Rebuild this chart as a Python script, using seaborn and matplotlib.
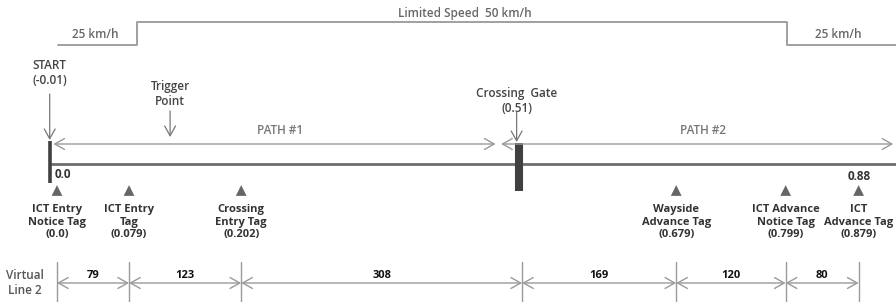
import matplotlib
matplotlib.use("Agg")
import matplotlib.pyplot as plt
import seaborn as sns
import pandas as pd

# ---------------- data (km) ----------------
segment_lengths = [79, 123, 308, 169, 120, 80]          # metres, Virtual Line 2
boundaries_km = [0.0, 0.079, 0.202, 0.510, 0.679, 0.799, 0.879]
tag_names = ["ICT Entry\nNotice Tag", "ICT Entry\nTag", "Crossing\nEntry Tag",
             "Wayside\nAdvance Tag", "ICT Advance\nNotice Tag", "ICT\nAdvance Tag"]
tag_pos = [0.0, 0.079, 0.202, 0.679, 0.799, 0.879]
tag_values = ["(0.0)", "(0.079)", "(0.202)", "(0.679)", "(0.799)", "(0.879)"]
speed_bounds = [0.001, 0.088, 0.800, 0.921]              # km
speed_values = [25, 50, 25]                              # km/h
start_pos = -0.008
gate_pos = 0.51
trigger_pos = 0.124
end_value = 0.88

# ---------------- style ----------------
sns.set_theme(style="white")
plt.rcParams["font.family"] = ["Open Sans", "DejaVu Sans"]

fig = plt.figure(figsize=(8.96, 3.02), dpi=100)
ax = fig.add_axes([0, 0, 1, 1])
ax.set_xlim(-0.0625, 0.9200)
ax.set_ylim(302, 0)  # y in pixel-like units, top down
ax.axis("off")

LGRAY = "#9a9a9a"
DARK = "#333333"

def speed_y(v):
    return 45 - (v - 25) * (23 / 25)

# speed profile (step line)
sx, sy = [], []
for i, v in enumerate(speed_values):
    sx += [speed_bounds[i], speed_bounds[i + 1]]
    sy += [speed_y(v), speed_y(v)]
speed_df = pd.DataFrame({"x": sx, "y": sy})
sns.lineplot(data=speed_df, x="x", y="y", sort=False, estimator=None,
             color="#999999", lw=1.3, ax=ax)
ax.text((speed_bounds[0] + speed_bounds[1]) / 2 - 0.003, 35, f"{speed_values[0]} km/h",
        ha="center", va="center", fontsize=8.5, color="#666666", fontweight="semibold")
ax.text((speed_bounds[1] + speed_bounds[2]) / 2 + 0.003, 13, f"Limited Speed  {speed_values[1]} km/h",
        ha="center", va="center", fontsize=8.5, color="#666666", fontweight="semibold")
ax.text((speed_bounds[2] + speed_bounds[3]) / 2 - 0.004, 35, f"{speed_values[2]} km/h",
        ha="center", va="center", fontsize=8.5, color="#666666", fontweight="semibold")

# main track
track_df = pd.DataFrame({"x": [start_pos, 0.92], "y": [164, 164]})
sns.lineplot(data=track_df, x="x", y="y", color="#6e6e6e", lw=2.0, ax=ax)

# START bar and gate bar
ax.plot([start_pos, start_pos], [141, 183], color="#404040", lw=2.6, solid_capstyle="butt")
ax.plot([gate_pos - 0.003, gate_pos - 0.003], [143, 191], color="#404040", lw=5.8,
        solid_capstyle="butt")

arrow_down = dict(arrowstyle="->,head_length=0.5,head_width=0.28", color="#777777",
                  lw=0.9, shrinkA=0, shrinkB=0, mutation_scale=14)
two_way = dict(arrowstyle="<->,head_length=0.5,head_width=0.28", color=LGRAY,
               lw=1.0, shrinkA=0, shrinkB=0, mutation_scale=14)

# START label + arrow
ax.text(start_pos, 73, "START\n(-0.01)", ha="center", va="center", fontsize=8.5,
        color="#444444", linespacing=1.25, fontweight="semibold")
ax.annotate("", xy=(start_pos, 140), xytext=(start_pos, 94), arrowprops=arrow_down)

# Trigger point
ax.text(trigger_pos, 94, "Trigger\nPoint", ha="center", va="center", fontsize=8.5,
        color="#444444", linespacing=1.25, fontweight="semibold")
ax.annotate("", xy=(trigger_pos, 137), xytext=(trigger_pos, 111), arrowprops=arrow_down)

# Crossing gate
ax.text(gate_pos - 0.006, 101, f"Crossing  Gate\n({gate_pos})", ha="center", va="center",
        fontsize=8.5, color="#444444", linespacing=1.25, fontweight="semibold")
ax.annotate("", xy=(gate_pos - 0.006, 142), xytext=(gate_pos - 0.006, 112),
            arrowprops=arrow_down)

# PATH arrows
ax.annotate("", xy=(start_pos + 0.004, 144), xytext=(gate_pos - 0.029, 144), arrowprops=two_way)
ax.text(0.245, 130, "PATH #1", ha="center", va="center", fontsize=8.5, color="#777777",
        fontweight="semibold")
ax.annotate("", xy=(gate_pos - 0.023, 144), xytext=(0.917, 144), arrowprops=two_way)
ax.text(0.708, 131, "PATH #2", ha="center", va="center", fontsize=8.5, color="#777777",
        fontweight="semibold")

# value labels on track
ax.text(0.0 - 0.003, 174, "0.0", ha="left", va="center", fontsize=8.5,
        fontweight="bold", color=DARK)
ax.text(end_value, 176, f"{end_value}", ha="center", va="center", fontsize=8.5,
        fontweight="bold", color=DARK)

# tags
tag_df = pd.DataFrame({"x": tag_pos, "y": [190.5] * len(tag_pos)})
sns.scatterplot(data=tag_df, x="x", y="y", marker="^", s=60, color="#666666",
                edgecolor="none", ax=ax, zorder=3)
for x, name, val in zip(tag_pos, tag_names, tag_values):
    ax.text(x, 222, f"{name}\n{val}", ha="center", va="center", fontsize=8,
            fontweight="bold", color=DARK, linespacing=1.2)

# Virtual line 2
ax.text(-0.035, 283, "Virtual\nLine 2", ha="center", va="center", fontsize=8.5,
        color="#555555", linespacing=1.2, fontweight="semibold")
for b in boundaries_km:
    ax.plot([b, b], [262, 302], color=LGRAY, lw=1.0)
for i, length in enumerate(segment_lengths):
    a, b = boundaries_km[i], boundaries_km[i + 1]
    ax.annotate("", xy=(a, 283), xytext=(b, 283), arrowprops=two_way)
    ax.text((a + b) / 2, 276, f"{length}", ha="center", va="center", fontsize=8,
            fontweight="bold", color="#111111")

fig.savefig("out.png", dpi=100)
